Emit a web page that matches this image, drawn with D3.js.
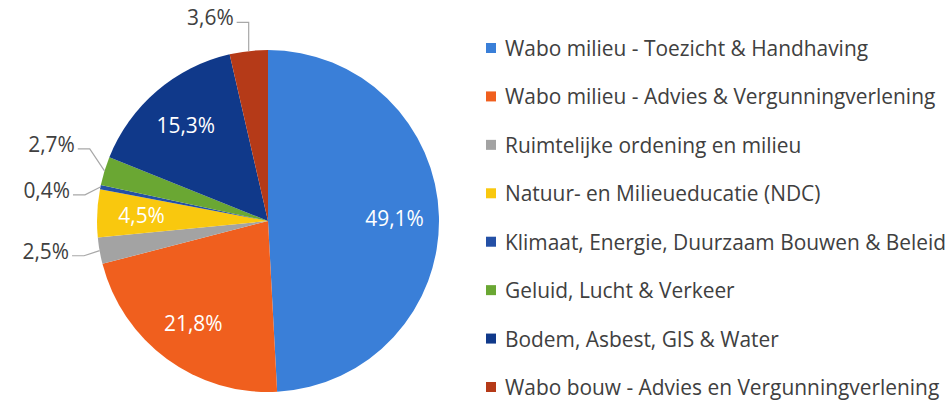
<!DOCTYPE html>
<html>
<head>
<meta charset="utf-8">
<script src="https://cdn.jsdelivr.net/npm/d3@7"></script>
<style>
  html, body { margin: 0; padding: 0; background: #fff; }
  svg { display: block; font-family: "Open Sans", sans-serif; }
</style>
</head>
<body>
<div id="chart"></div>
<script>
// slices, clockwise from 12 o'clock
const categories = [
    "Wabo milieu - Toezicht & Handhaving",
    "Wabo milieu - Advies & Vergunningverlening",
    "Ruimtelijke ordening en milieu",
    "Natuur- en Milieueducatie (NDC)",
    "Klimaat, Energie, Duurzaam Bouwen & Beleid",
    "Geluid, Lucht & Verkeer",
    "Bodem, Asbest, GIS & Water",
    "Wabo bouw - Advies en Vergunningverlening"
];
const shares = [49.1, 21.8, 2.5, 4.5, 0.4, 2.7, 15.3, 3.6];
const labelTexts = ["49,1%", "21,8%", "2,5%", "4,5%", "0,4%", "2,7%", "15,3%", "3,6%"];
const colors = ["#3a7fd8", "#f05f1e", "#a3a3a3", "#f9c80e", "#2450a6", "#6aa733", "#10398a", "#b53a18"];
// which labels Excel put outside the pie
const outside = [false, false, true, false, true, true, false, true];

const W = 948, H = 402;
const cx = 268, cy = 221, r = 171;
const fontSize = "20.9px";

const svg = d3.select("#chart").append("svg")
    .attr("width", W)
    .attr("height", H);

const data = categories.map((c, i) => ({ name: c, value: shares[i], label: labelTexts[i], color: colors[i], out: outside[i] }));

const pie = d3.pie().sort(null).value(d => d.value);
const arcs = pie(data);

const arc = d3.arc().innerRadius(0).outerRadius(r);
const inLabelArc = d3.arc().innerRadius(r * 0.74).outerRadius(r * 0.74);

const g = svg.append("g").attr("transform", `translate(${cx},${cy})`);

g.selectAll("path.slice")
    .data(arcs)
    .enter().append("path")
    .attr("class", "slice")
    .attr("d", arc)
    .attr("fill", d => d.data.color);

// inside labels
g.selectAll("text.in")
    .data(arcs.filter(d => !d.data.out))
    .enter().append("text")
    .attr("class", "in")
    .attr("transform", d => `translate(${inLabelArc.centroid(d)})`)
    .attr("text-anchor", "middle")
    .attr("dominant-baseline", "central")
    .attr("fill", "#fff")
    .style("font-size", fontSize)
    .text(d => d.data.label);

// outside labels with leader lines, spread vertically so they don't collide
const mid = d => (d.startAngle + d.endAngle) / 2;
const labelR = 200, minGap = 46;
const outs = arcs.filter(d => d.data.out).map(d => {
    const a = mid(d);
    return {
        d: d,
        edge: [r * Math.sin(a), -r * Math.cos(a)],
        rx: labelR * Math.sin(a),
        y: -labelR * Math.cos(a),
        left: Math.sin(a) < 0
    };
});

// simple relaxation on the left side
const leftOuts = outs.filter(o => o.left).sort((a, b) => a.y - b.y);
for (let iter = 0; iter < 50; iter++) {
    for (let i = 1; i < leftOuts.length; i++) {
        const a = leftOuts[i - 1], b = leftOuts[i];
        const gap = b.y - a.y;
        if (gap < minGap) {
            const push = (minGap - gap) / 2;
            a.y -= push;
            b.y += push;
        }
    }
}

outs.forEach(o => {
    const s = o.left ? -1 : 1;
    const elbowX = o.left ? Math.min(o.edge[0], o.rx + 13) : Math.max(o.edge[0], o.rx - 13);
    o.elbow = [elbowX, o.y];
    o.end = [elbowX + s * 12, o.y];
});

g.selectAll("polyline.leader")
    .data(outs)
    .enter().append("polyline")
    .attr("class", "leader")
    .attr("points", o => [o.edge, o.elbow, o.end].map(p => p.join(",")).join(" "))
    .attr("fill", "none")
    .attr("stroke", "#a8a8a8")
    .attr("stroke-width", 1.2);

g.selectAll("text.out")
    .data(outs)
    .enter().append("text")
    .attr("class", "out")
    .attr("x", o => o.end[0] + (o.left ? -3 : 3))
    .attr("y", o => o.y - 5)
    .attr("text-anchor", o => o.left ? "end" : "start")
    .attr("dominant-baseline", "central")
    .attr("fill", "#404040")
    .style("font-size", fontSize)
    .text(o => o.d.data.label);

// legend
const ly = d3.scalePoint()
    .domain(categories)
    .range([48, 387]);

const legend = svg.append("g").attr("class", "legend");
const item = legend.selectAll("g.item")
    .data(data)
    .enter().append("g")
    .attr("class", "item")
    .attr("transform", d => `translate(486,${ly(d.name)})`);

item.append("rect")
    .attr("x", 0)
    .attr("y", -5)
    .attr("width", 10)
    .attr("height", 10)
    .attr("fill", d => d.color);

item.append("text")
    .attr("x", 19)
    .attr("y", 0)
    .attr("dominant-baseline", "central")
    .attr("fill", "#404040")
    .style("font-size", fontSize)
    .text(d => d.name);
</script>
</body>
</html>
